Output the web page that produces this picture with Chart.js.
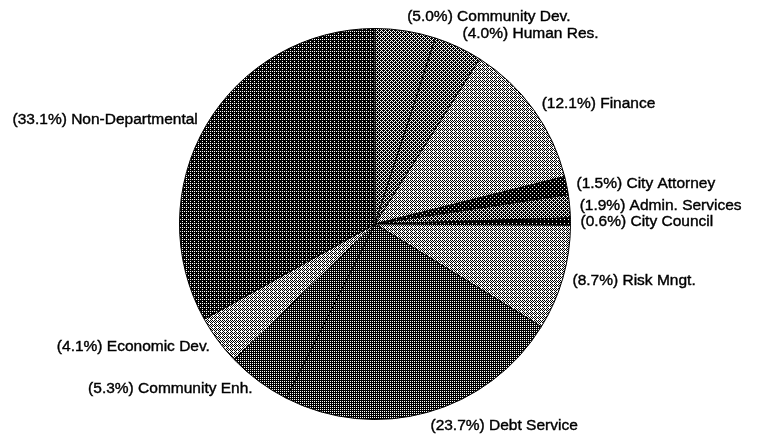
<!DOCTYPE html>
<html>
<head>
<meta charset="utf-8">
<script src="https://cdn.jsdelivr.net/npm/chart.js@4/dist/chart.umd.min.js"></script>
<style>
html,body{margin:0;padding:0;background:#fff}
#wrap{width:757px;height:438px;position:relative}
</style>
</head>
<body>
<div id="wrap"><canvas id="pie"></canvas></div>
<script>
// slices clockwise from 12 o'clock
const depts = ['Community Dev.','Human Res.','Finance','City Attorney','Admin. Services','City Council','Risk Mngt.','Debt Service','Community Enh.','Economic Dev.','Non-Departmental'];
const shares = [5.0,4.0,12.1,1.5,1.9,0.6,8.7,23.7,5.3,4.1,33.1];
// how much black in each dither fill (0..1)
const darkness = [0.62,0.6,0.42,0.88,0.65,0.92,0.42,0.78,0.72,0.45,0.82];

const bayer=[[0,8,2,10],[12,4,14,6],[3,11,1,9],[15,7,13,5]];
function dither(level){
  const c=document.createElement('canvas');c.width=4;c.height=4;
  const x=c.getContext('2d');
  x.fillStyle='#fff';x.fillRect(0,0,4,4);
  x.fillStyle='#000';
  for(let i=0;i<4;i++)for(let j=0;j<4;j++){
    if((bayer[j][i]+0.5)/16<level)x.fillRect(i,j,1,1);
  }
  return x.createPattern(c,'repeat');
}

const sliceLabels={
  id:'sliceLabels',
  afterDatasetsDraw(chart){
    const ctx=chart.ctx;
    const arcs=chart.getDatasetMeta(0).data;
    ctx.save();
    ctx.fillStyle='#000';ctx.strokeStyle='#000';ctx.lineWidth=0.4;
    ctx.textBaseline='middle';
    ctx.font='15.5px "Liberation Sans Narrow", "Liberation Sans", Arial, sans-serif';
    arcs.forEach((a,i)=>{
      const mid=(a.startAngle+a.endAngle)/2;
      const r=a.outerRadius+10;
      let px=a.x+Math.cos(mid)*r, py=a.y+Math.sin(mid)*r;
      if(Math.sin(mid)<-0.85)py-=4;
      if(Math.sin(mid)>0.85)py+=4;
      const txt='('+shares[i].toFixed(1)+'%) '+depts[i];
      ctx.textAlign=Math.cos(mid)>=0?'left':'right';
      ctx.fillText(txt,px,py);
      ctx.strokeText(txt,px,py);
    });
    ctx.restore();
  }
};

new Chart(document.getElementById('pie'),{
  type:'pie',
  data:{labels:depts,datasets:[{data:shares,backgroundColor:darkness.map(dither),borderColor:'#000',borderWidth:1,hoverOffset:0}]},
  options:{
    responsive:true,maintainAspectRatio:false,animation:false,
    layout:{padding:{left:179,right:186,top:28,bottom:18}},
    plugins:{legend:{display:false},tooltip:{enabled:false}}
  },
  plugins:[sliceLabels]
});
</script>
</body>
</html>
